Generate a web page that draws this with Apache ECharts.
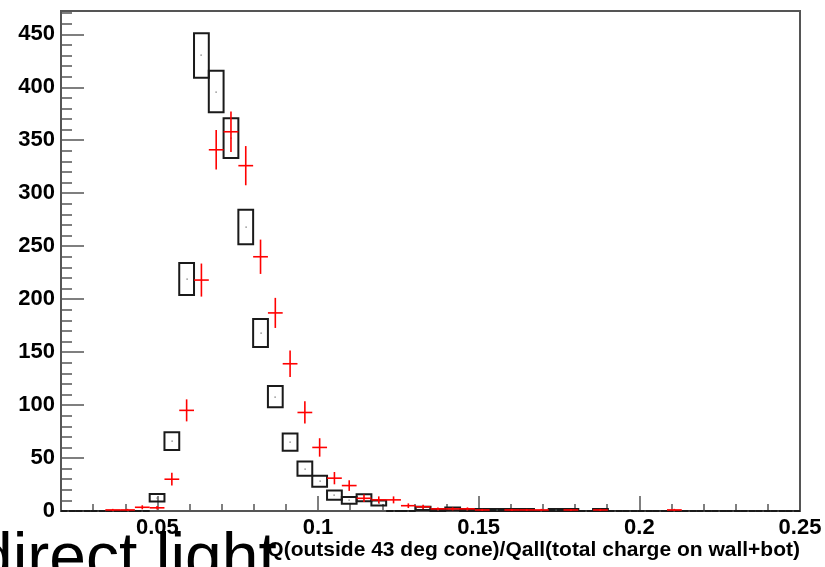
<!DOCTYPE html>
<html>
<head>
<meta charset="utf-8">
<script src="https://cdn.jsdelivr.net/npm/echarts@6/dist/echarts.min.js"></script>
<style>
html,body{margin:0;padding:0;background:#fff;}
#chart{width:825px;height:567px;}
</style>
</head>
<body>
<div id="chart"></div>
<script>
// Histogram bin centres (50 bins from 0.02 to 0.25, width 0.0046)
const binWidth = 0.0046;
const binCenters = [0.0223,0.0269,0.0315,0.0361,0.0407,0.0453,0.0499,0.0545,0.0591,0.0637,
  0.0683,0.0729,0.0775,0.0821,0.0867,0.0913,0.0959,0.1005,0.1051,0.1097,
  0.1143,0.1189,0.1235,0.1281,0.1327,0.1373,0.1419,0.1465,0.1511,0.1557,
  0.1603,0.1649,0.1695,0.1741,0.1787,0.1833,0.1879,0.1925,0.1971,0.2017,
  0.2063,0.2109,0.2155,0.2201,0.2247,0.2293,0.2339,0.2385,0.2431,0.2477];

// Black (box) histogram
const blackValues = [0,0,0,0,0,0,12.5,66,219,430,
  396,352,268,168,108,65,40,28,15,10,
  12.5,7.5,0,0,2.5,1,2,1,1,1,
  1,1,0,1,1,0,1,0,0,0,
  0,0,0,0,0,0,0,0,0,0];
const blackErrors = [0,0,0,0,0,0,3.6,8.3,15,21,
  19.5,18.7,16.3,13.2,10,8.2,6.8,5.2,4.4,3.2,
  3.2,2.3,0,0,1.6,1,1.4,1,1,1,
  1,1,0,1,1,0,1,0,0,0,
  0,0,0,0,0,0,0,0,0,0];

// Red (cross) histogram
const redValues = [0,0,0,1,1,3.5,3,30,95,218,
  341,358,326,240,187,139,93,60,31,24,
  12,10.5,10.5,5,4,2,2,2,1,0,
  1,1,1,0,1,0,1,0,0,0,
  0,1,0,0,0,0,0,0,0,0];
const redErrors = [0,0,0,1,1,1.9,1.7,6,10.4,15.6,
  18.6,19.2,18.5,16.2,14.2,12.4,10.5,8.7,5.8,5,
  3.5,3.3,3.3,2.2,2,1.4,1.4,1.4,1,0,
  1,1,1,0,1,0,1,0,0,0,
  0,1,0,0,0,0,0,0,0,0];

const xMajorTicks = [0.05,0.1,0.15,0.2,0.25];
const yMajorTicks = [0,50,100,150,200,250,300,350,400,450];
const xTitle = 'Q(outside 43 deg cone)/Qall(total charge on wall+bot)';
const overlayText = 'direct light';

const blackData = binCenters.map((x,i)=>[x, blackValues[i], blackErrors[i]]);
const redData = [];
binCenters.forEach((x,i)=>{ if (redValues[i] > 0) redData.push([x, redValues[i], redErrors[i]]); });

const chart = echarts.init(document.getElementById('chart'), null, {renderer:'canvas'});
const axisCol = '#555';
const labelFont = {fontFamily:'Liberation Sans, Arial, Helvetica, sans-serif', fontWeight:'bold', fontSize:22, color:'#000'};

function renderBox(params, api) {
  const x = api.value(0), v = api.value(1), e = api.value(2);
  const p1 = api.coord([x - binWidth/2, v + e]);
  const p2 = api.coord([x + binWidth/2, v - e]);
  const c = api.coord([x, v]);
  return {
    type:'group',
    children:[
      {type:'polygon', shape:{points:[[p1[0],p1[1]],[p2[0],p1[1]],[p2[0],p2[1]],[p1[0],p2[1]]]},
       style:{fill:null, stroke:'#1a1a1a', lineWidth:2}},
      {type:'rect', shape:{x:Math.round(c[0])-0.5, y:Math.round(c[1])-0.5, width:1.2, height:1.2},
       style:{fill:'#666'}}
    ]
  };
}
function renderCross(params, api) {
  const x = api.value(0), v = api.value(1), e = api.value(2);
  const l = api.coord([x - binWidth/2, v]);
  const r = api.coord([x + binWidth/2, v]);
  const t = api.coord([x, v + e]);
  const b = api.coord([x, Math.max(0, v - e)]);
  return {
    type:'group',
    children:[
      {type:'line', shape:{x1:l[0], y1:l[1], x2:r[0], y2:r[1]}, style:{stroke:'#ff0000', lineWidth:1.6}},
      {type:'line', shape:{x1:t[0], y1:t[1], x2:b[0], y2:b[1]}, style:{stroke:'#ff0000', lineWidth:1.6}}
    ]
  };
}

const option = {
  animation:false,
  backgroundColor:'#fff',
  grid:{left:61, top:11, width:739, height:500, show:true, borderColor:axisCol, borderWidth:2, backgroundColor:'transparent'},
  xAxis:[
    {type:'value', min:0.02, max:0.25, interval:0.01,
     axisLine:{show:true, onZero:false, lineStyle:{color:axisCol, width:2}},
     axisTick:{show:true, inside:true, length:7, lineStyle:{color:axisCol, width:1.5}},
     axisLabel:{show:false}, splitLine:{show:false}},
    {type:'value', min:0.02, max:0.25, position:'bottom',
     axisLine:{show:false, onZero:false},
     axisTick:{show:true, inside:true, length:15, customValues:xMajorTicks, lineStyle:{color:axisCol, width:1.5}},
     axisLabel:Object.assign({show:true, margin:6, customValues:xMajorTicks, formatter:(v)=>String(+v.toFixed(2))}, labelFont),
     splitLine:{show:false}}
  ],
  yAxis:[
    {type:'value', min:0, max:472, interval:10,
     axisLine:{show:true, onZero:false, lineStyle:{color:axisCol, width:2}},
     axisTick:{show:true, inside:true, length:11, lineStyle:{color:axisCol, width:1.5}},
     axisLabel:{show:false}, splitLine:{show:false}},
    {type:'value', min:0, max:472, position:'left',
     axisLine:{show:false, onZero:false},
     axisTick:{show:true, inside:true, length:23, customValues:yMajorTicks, lineStyle:{color:axisCol, width:1.5}},
     axisLabel:Object.assign({show:true, margin:6, customValues:yMajorTicks}, labelFont),
     splitLine:{show:false}}
  ],
  series:[
    {type:'custom', name:'boxes', xAxisIndex:0, yAxisIndex:0, renderItem:renderBox, data:blackData, clip:false, z:3},
    {type:'custom', name:'crosses', xAxisIndex:0, yAxisIndex:0, renderItem:renderCross, data:redData, clip:false, z:4}
  ],
  graphic:[
    {type:'text', x:800, y:550, z:10,
     style:{text:xTitle, font:'bold 21px "Liberation Sans", Arial, sans-serif', fill:'#000', align:'right', verticalAlign:'middle'}},
    {type:'text', x:-24, y:561, z:11,
     style:{text:overlayText, font:'normal 66px "Liberation Sans", Arial, sans-serif', fill:'#000', align:'left', verticalAlign:'middle'}}
  ]
};
chart.setOption(option);
</script>
</body>
</html>
